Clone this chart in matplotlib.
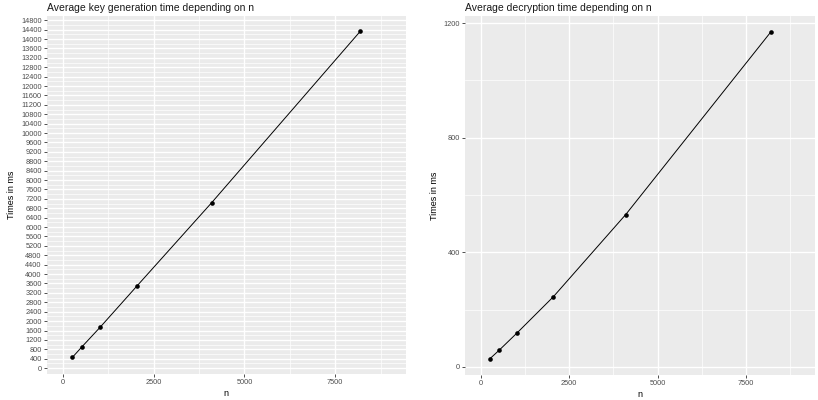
import matplotlib.pyplot as plt
import numpy as np

n = [256, 512, 1024, 2048, 4096, 8192]
keygen_ms = [455, 892, 1742, 3513, 7039, 14333]
decrypt_ms = [29, 58, 119, 245, 532, 1168]

x_ticks = [0, 2500, 5000, 7500]
keygen_ticks = list(range(0, 14801, 400))
decrypt_ticks = [0, 400, 800, 1200]

plt.rcParams['font.family'] = ['Liberation Sans', 'DejaVu Sans']

W, H = 818, 400
fig = plt.figure(figsize=(W / 100, H / 100), dpi=100)


def panel(x0, x1, y0, y1):
    return fig.add_axes([x0 / W, 1 - y1 / H, (x1 - x0) / W, (y1 - y0) / H])


def style(ax, yt, ylim, title, yminor):
    ax.set_facecolor('#EBEBEB')
    for s in ax.spines.values():
        s.set_visible(False)
    ax.set_xlim(-450, 9450)
    ax.set_ylim(*ylim)
    ax.set_xticks(x_ticks)
    ax.set_xticks([1250, 3750, 6250, 8750], minor=True)
    ax.set_yticks(yt)
    ax.set_yticks(yminor, minor=True)
    ax.grid(which='major', color='white', lw=1.0)
    ax.grid(which='minor', color='white', lw=0.5)
    ax.set_axisbelow(True)
    ax.tick_params(which='major', length=2, width=0.6, color='#333333',
                   labelsize=5.3, labelcolor='#4D4D4D', pad=1.5)
    ax.tick_params(which='minor', length=0)
    ax.set_xlabel('n', fontsize=6.5, labelpad=2)
    ax.set_ylabel('Times in ms', fontsize=6.5, labelpad=3.5)
    ax.set_title(title, fontsize=7.5, loc='left', pad=3.5, color='#1A1A1A')


ax1 = panel(46.7, 406, 15.7, 374.3)
ax1.plot(n, keygen_ms, color='black', lw=0.7, zorder=3)
ax1.scatter(n, keygen_ms, color='black', s=11, zorder=4, linewidths=0)
style(ax1, keygen_ticks, (-263, 14993), 'Average key generation time depending on n',
      np.arange(200, 14801, 400))

ax2 = panel(465, 815, 16, 375)
ax2.plot(n, decrypt_ms, color='black', lw=0.7, zorder=3)
ax2.scatter(n, decrypt_ms, color='black', s=11, zorder=4, linewidths=0)
style(ax2, decrypt_ticks, (-28, 1225), 'Average decryption time depending on n',
      [200, 600, 1000])

fig.savefig('out.png', dpi=100)
